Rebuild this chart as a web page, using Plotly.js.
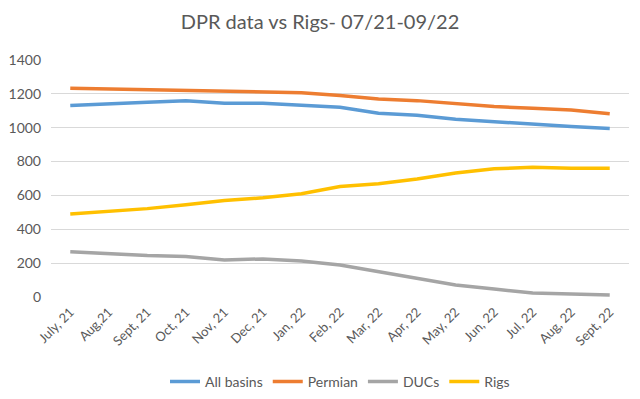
<!DOCTYPE html>
<html>
<head>
<meta charset="utf-8">
<script src="https://cdn.plot.ly/plotly-3.0.1.min.js"></script>
<style>html,body{margin:0;padding:0;background:#fff}#chart{width:640px;height:399px}</style>
</head>
<body>
<div id="chart"></div>
<script>
const months = ["July, 21","Aug,21","Sept, 21","Oct, 21","Nov, 21","Dec, 21","Jan, 22","Feb, 22","Mar, 22","Apr, 22","May, 22","Jun, 22","Jul, 22","Aug, 22","Sept, 22"];
const allBasins = [1131,1138,1150,1160,1144,1144,1131,1121,1085,1074,1050,1036,1017,1007,995];
const permian = [1233,1228,1224,1223,1218,1212,1207,1190,1170,1160,1143,1125,1115,1105,1083];
const ducs = [267,255,245,239,219,225,213,189,150,110,71,47,24,18,12];
const rigs = [490,506,522,545,570,586,610,653,669,697,732,757,767,760,760];

const names = ["All basins","Permian","DUCs","Rigs"];
const series = [allBasins, permian, ducs, rigs];
const colors = ["#5B9BD5","#ED7D31","#A5A5A5","#FFC000"];

const traces = series.map((s,i)=>({
  type:"scatter", mode:"lines", x:months, y:s, name:names[i],
  line:{color:colors[i], width:3.5}
}));

const layout = {
  width:640, height:399,
  margin:{l:51, r:11, t:60, b:102},
  paper_bgcolor:"#fff", plot_bgcolor:"#fff",
  font:{family:"Lato, 'Open Sans', sans-serif", color:"#595959", size:13},
  title:{text:"DPR data vs Rigs- 07/21-09/22", x:0.5, xanchor:"center", y:0.945, yanchor:"middle",
         font:{size:20, color:"#595959", family:"Lato, 'Open Sans', sans-serif"}},
  xaxis:{type:"category", tickangle:-45, showgrid:false, zeroline:false, showline:false, automargin:false,
         ticks:"", tickfont:{size:13, color:"#595959"}, range:[-0.5,14.5], ticklabelstandoff:4},
  yaxis:{range:[0,1400], dtick:200, showgrid:true, gridcolor:"#D9D9D9", gridwidth:1, automargin:false,
         zeroline:false, showline:false, ticks:"", tickfont:{size:14, color:"#595959"}, ticklabelstandoff:9},
  legend:{orientation:"h", x:0.5, xanchor:"center", yref:"container", y:0.043, yanchor:"middle",
          font:{size:14, color:"#595959"}, itemwidth:30},
  showlegend:true
};

Plotly.newPlot("chart", traces, layout, {displayModeBar:false, staticPlot:true});
</script>
</body>
</html>
